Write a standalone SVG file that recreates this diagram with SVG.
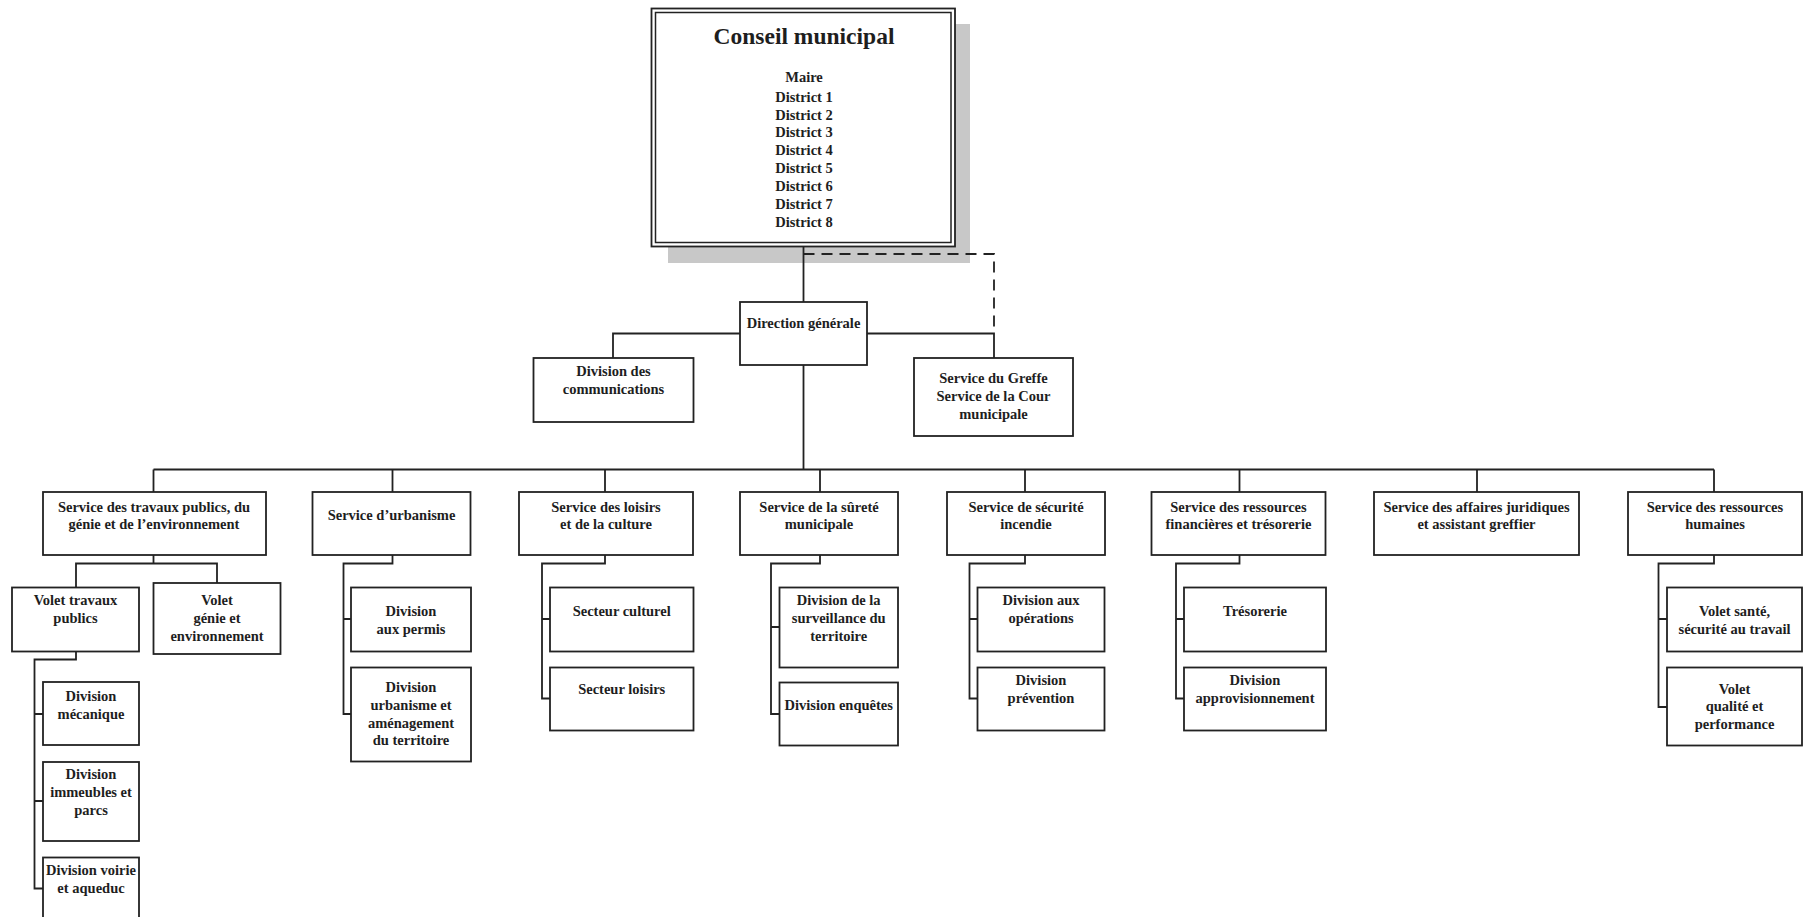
<svg xmlns="http://www.w3.org/2000/svg" width="1811" height="917" viewBox="0 0 1811 917">
<style>
.bx{fill:#fff;stroke:#222;stroke-width:1.8}
.cn{fill:none;stroke:#222;stroke-width:1.8}
.ds{fill:none;stroke:#222;stroke-width:1.8;stroke-dasharray:11,7}
text{font-family:"Liberation Serif","Times New Roman",serif;font-weight:bold;font-size:14.5px;fill:#1e1e1e;text-anchor:middle}
.ttl{font-size:23.5px}
</style>
<rect width="1811" height="917" fill="#fff"/>
<g id="conseil">
<rect x="668" y="24" width="302" height="239" fill="#c8c8c8"/>
<rect class="bx" x="651.5" y="8.5" width="303.5" height="238"/>
<rect x="655.5" y="12.5" width="295.5" height="230" fill="none" stroke="#222" stroke-width="1.5"/>
<text class="ttl" x="804" y="44">Conseil municipal</text>
<text x="804" y="82">Maire</text>
<text x="804" y="101.7">District 1</text>
<text x="804" y="119.5">District 2</text>
<text x="804" y="137.3">District 3</text>
<text x="804" y="155.2">District 4</text>
<text x="804" y="173">District 5</text>
<text x="804" y="190.8">District 6</text>
<text x="804" y="208.7">District 7</text>
<text x="804" y="226.5">District 8</text>
</g>
<g id="connectors">
<path class="cn" d="M803.5 247V302"/>
<path class="ds" d="M803.5 254H994V333"/>
<path class="cn" d="M613 358V333.5H994V358"/>
<path class="cn" d="M803.5 365V469.5"/>
<path class="cn" d="M153.5 469.5H1714"/>
<path class="cn" d="M153.5 469.5V492M392.5 469.5V492M605 469.5V492M820 469.5V492M1025 469.5V492M1239.5 469.5V492M1477 469.5V492M1714 469.5V492"/>
<path class="cn" d="M153.5 555V563.5M76 587.5V563.5H217V583"/>
<path class="cn" d="M76 651.5V659.5H34.5V888.5H43M34.5 714H43M34.5 801H43"/>
<path class="cn" d="M392.5 555V563.5H343.5V714H351M343.5 619H351"/>
<path class="cn" d="M605 555V563.5H542V698.5H550M542 619H550"/>
<path class="cn" d="M820 555V563.5H771V714H779.5M771 627H779.5"/>
<path class="cn" d="M1025 555V563.5H969.5V698.5H977.5M969.5 619H977.5"/>
<path class="cn" d="M1239.5 555V563.5H1176V698.5H1184M1176 619H1184"/>
<path class="cn" d="M1714 555V563.5H1658.5V707H1667M1658.5 619H1667"/>
</g>
<g id="direction">
<rect class="bx" x="740" y="302" width="127" height="63"/>
<text x="803.5" y="328">Direction générale</text>
</g>
<g id="communications">
<rect class="bx" x="533.5" y="358" width="160" height="64"/>
<text x="613.5" y="376">Division des</text>
<text x="613.5" y="394">communications</text>
</g>
<g id="greffe">
<rect class="bx" x="914" y="358" width="159" height="78"/>
<text x="993.5" y="383">Service du Greffe</text>
<text x="993.5" y="401">Service de la Cour</text>
<text x="993.5" y="418.5">municipale</text>
</g>
<g id="travaux">
<rect class="bx" x="43" y="492" width="223" height="63"/>
<text x="154" y="511.5">Service des travaux publics, du</text>
<text x="154" y="529">génie et de l’environnement</text>
</g>
<g id="urbanisme">
<rect class="bx" x="312.5" y="492" width="158" height="63"/>
<text x="391.5" y="520">Service d’urbanisme</text>
</g>
<g id="loisirs">
<rect class="bx" x="519" y="492" width="174" height="63"/>
<text x="606" y="511.5">Service des loisirs</text>
<text x="606" y="529">et de la culture</text>
</g>
<g id="surete">
<rect class="bx" x="740" y="492" width="158" height="63"/>
<text x="819" y="511.5">Service de la sûreté</text>
<text x="819" y="529">municipale</text>
</g>
<g id="incendie">
<rect class="bx" x="947" y="492" width="158" height="63"/>
<text x="1026" y="511.5">Service de sécurité</text>
<text x="1026" y="529">incendie</text>
</g>
<g id="finances">
<rect class="bx" x="1151.5" y="492" width="174" height="63"/>
<text x="1238.5" y="511.5">Service des ressources</text>
<text x="1238.5" y="529">financières et trésorerie</text>
</g>
<g id="juridiques">
<rect class="bx" x="1374" y="492" width="205" height="63"/>
<text x="1476.5" y="511.5">Service des affaires juridiques</text>
<text x="1476.5" y="529">et assistant greffier</text>
</g>
<g id="rh">
<rect class="bx" x="1628" y="492" width="174" height="63"/>
<text x="1715" y="511.5">Service des ressources</text>
<text x="1715" y="529">humaines</text>
</g>
<g id="volet-travaux">
<rect class="bx" x="12" y="587.5" width="127" height="64"/>
<text x="75.5" y="605">Volet travaux</text>
<text x="75.5" y="623">publics</text>
</g>
<g id="volet-genie">
<rect class="bx" x="153.5" y="583" width="127" height="71"/>
<text x="217" y="605">Volet</text>
<text x="217" y="623">génie et</text>
<text x="217" y="641">environnement</text>
</g>
<g id="div-mecanique">
<rect class="bx" x="43" y="682" width="96" height="63"/>
<text x="91" y="701">Division</text>
<text x="91" y="719">mécanique</text>
</g>
<g id="div-immeubles">
<rect class="bx" x="43" y="762" width="96" height="79"/>
<text x="91" y="779">Division</text>
<text x="91" y="797">immeubles et</text>
<text x="91" y="815">parcs</text>
</g>
<g id="div-voirie">
<rect class="bx" x="43" y="857.5" width="96" height="80"/>
<text x="91" y="875">Division voirie</text>
<text x="91" y="893">et aqueduc</text>
</g>
<g id="div-permis">
<rect class="bx" x="351" y="587.5" width="120" height="64"/>
<text x="411" y="615.5">Division</text>
<text x="411" y="633.5">aux permis</text>
</g>
<g id="div-urbanisme">
<rect class="bx" x="351" y="667.5" width="120" height="94"/>
<text x="411" y="692">Division</text>
<text x="411" y="710">urbanisme et</text>
<text x="411" y="727.5">aménagement</text>
<text x="411" y="745">du territoire</text>
</g>
<g id="secteur-culturel">
<rect class="bx" x="550" y="587.5" width="143.5" height="64"/>
<text x="621.7" y="615.5">Secteur culturel</text>
</g>
<g id="secteur-loisirs">
<rect class="bx" x="550" y="667.5" width="143.5" height="63"/>
<text x="621.7" y="694">Secteur loisirs</text>
</g>
<g id="div-surveillance">
<rect class="bx" x="779.5" y="587.5" width="118.5" height="80"/>
<text x="838.7" y="605">Division de la</text>
<text x="838.7" y="623">surveillance du</text>
<text x="838.7" y="641">territoire</text>
</g>
<g id="div-enquetes">
<rect class="bx" x="779.5" y="682.5" width="118.5" height="63"/>
<text x="838.7" y="710">Division enquêtes</text>
</g>
<g id="div-operations">
<rect class="bx" x="977.5" y="587.5" width="127" height="64"/>
<text x="1041" y="605">Division aux</text>
<text x="1041" y="623">opérations</text>
</g>
<g id="div-prevention">
<rect class="bx" x="977.5" y="667.5" width="127" height="63"/>
<text x="1041" y="685">Division</text>
<text x="1041" y="702.5">prévention</text>
</g>
<g id="tresorerie">
<rect class="bx" x="1184" y="587.5" width="142" height="64"/>
<text x="1255" y="615.5">Trésorerie</text>
</g>
<g id="div-approvisionnement">
<rect class="bx" x="1184" y="667.5" width="142" height="63"/>
<text x="1255" y="685">Division</text>
<text x="1255" y="702.5">approvisionnement</text>
</g>
<g id="volet-sante">
<rect class="bx" x="1667" y="587.5" width="135" height="64"/>
<text x="1734.5" y="615.5">Volet santé,</text>
<text x="1734.5" y="633.5">sécurité au travail</text>
</g>
<g id="volet-qualite">
<rect class="bx" x="1667" y="667.5" width="135" height="78"/>
<text x="1734.5" y="693.5">Volet</text>
<text x="1734.5" y="711">qualité et</text>
<text x="1734.5" y="729">performance</text>
</g>
</svg>
